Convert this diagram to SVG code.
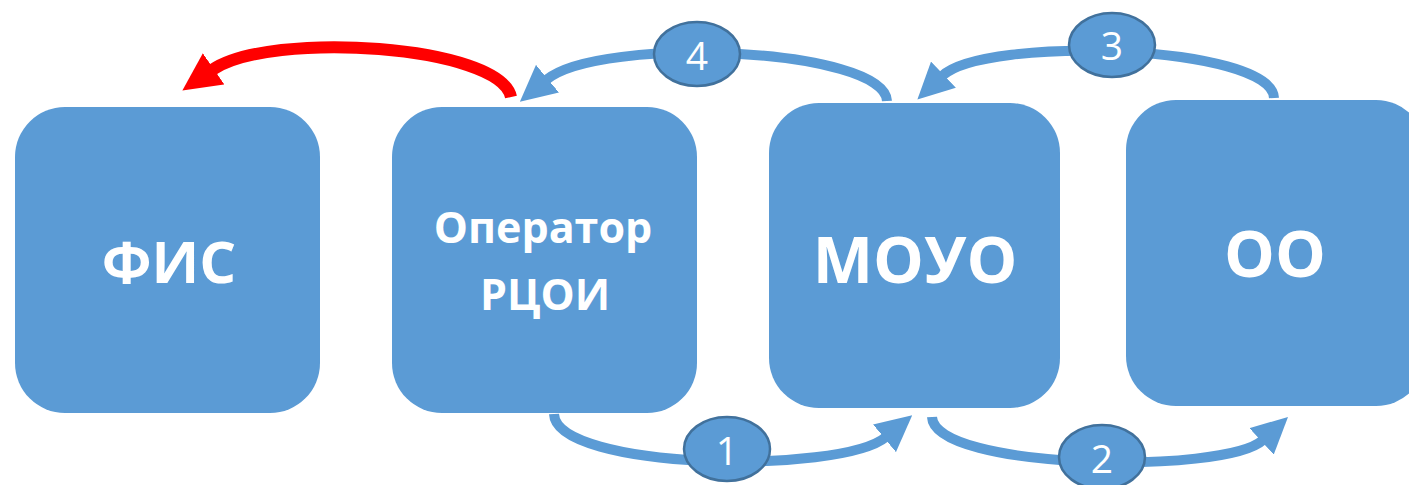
<svg xmlns="http://www.w3.org/2000/svg" width="1409" height="485" viewBox="0 0 1409 485">
<style>
.box{fill:#5B9BD5}
.lbl{fill:#fff;font-family:"Open Sans","Noto Sans",sans-serif;font-weight:bold;text-anchor:middle}
.con{fill:none;stroke:#5B9BD5;stroke-width:10}
.red{fill:none;stroke:#FF0000;stroke-width:12}
.badge{fill:#5B9BD5;stroke:#41719C;stroke-width:2.5}
.num{fill:#fff;font-family:"Open Sans","Noto Sans",sans-serif;font-size:39px;text-anchor:middle}
</style>
<defs>
<marker id="ab" markerUnits="userSpaceOnUse" viewBox="0 0 36 36" markerWidth="36" markerHeight="36" refX="2" refY="18" orient="auto">
<path d="M0,0 L36,18 L0,36 z" fill="#5B9BD5"/>
</marker>
<marker id="ar" markerUnits="userSpaceOnUse" viewBox="0 0 38 38" markerWidth="38" markerHeight="38" refX="2" refY="19" orient="auto">
<path d="M0,0 L38,19 L0,38 z" fill="#FF0000"/>
</marker>
</defs>
<g id="node-fis">
<rect class="box" x="15" y="107" width="305" height="306" rx="50" ry="50"/>
<text class="lbl" x="169" y="283" font-size="58">ФИС</text>
</g>
<g id="node-rcoi">
<rect class="box" x="392" y="107" width="305" height="306" rx="50" ry="50"/>
<text class="lbl" x="543" y="243" font-size="43">Оператор</text>
<text class="lbl" x="545" y="310" font-size="43">РЦОИ</text>
</g>
<g id="node-moyo">
<rect class="box" x="769" y="103" width="291" height="305" rx="50" ry="50"/>
<text class="lbl" x="915" y="283" font-size="64">МОУО</text>
</g>
<g id="node-oo">
<rect class="box" x="1126" y="100" width="300" height="306" rx="50" ry="50"/>
<text class="lbl" x="1275" y="277" font-size="64">ОО</text>
</g>
<g id="connectors">
<path class="red" d="M 511 97 C 500 45, 270 30, 212 70" marker-end="url(#ar)"/>
<path class="con" d="M 887 101 C 885 48, 600 35, 546 80" marker-end="url(#ab)"/>
<path class="con" d="M 1274 98 C 1272 45, 985 35, 942 76" marker-end="url(#ab)"/>
<path class="con" d="M 554 414 C 556 470, 840 475, 886 437" marker-end="url(#ab)"/>
<path class="con" d="M 932 417 C 934 470, 1225 475, 1263 440" marker-end="url(#ab)"/>
</g>
<g id="badge-1">
<ellipse class="badge" cx="727" cy="449" rx="43" ry="32"/>
<text class="num" x="727" y="465">1</text>
</g>
<g id="badge-2">
<ellipse class="badge" cx="1102" cy="457" rx="43" ry="32"/>
<text class="num" x="1102" y="473">2</text>
</g>
<g id="badge-3">
<ellipse class="badge" cx="1112" cy="45" rx="43" ry="32"/>
<text class="num" x="1112" y="60">3</text>
</g>
<g id="badge-4">
<ellipse class="badge" cx="697" cy="54" rx="43" ry="32"/>
<text class="num" x="697" y="70">4</text>
</g>
</svg>
